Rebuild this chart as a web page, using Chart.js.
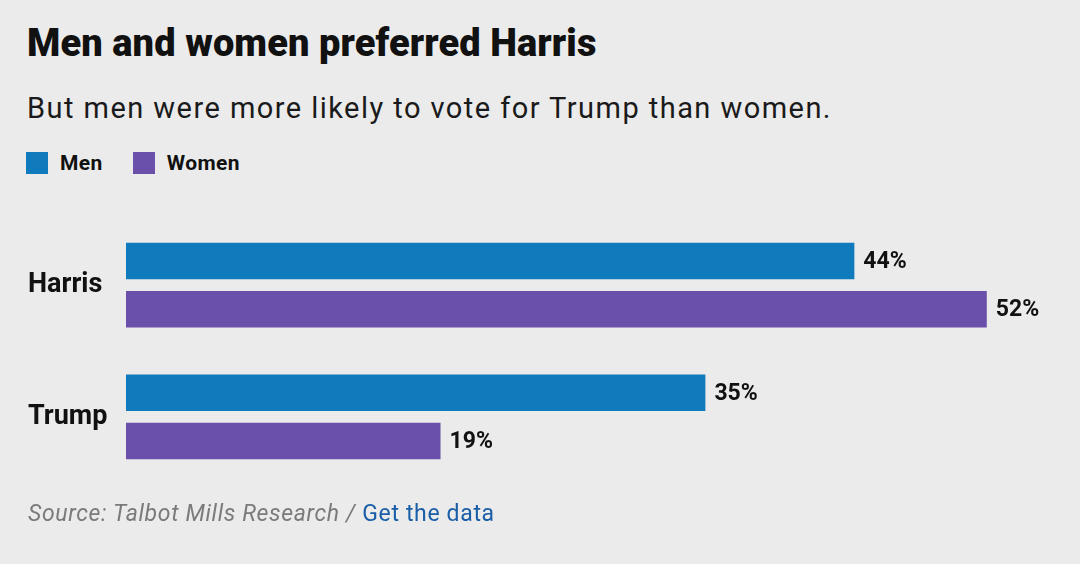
<!DOCTYPE html>
<html>
<head>
<meta charset="utf-8">
<script src="https://cdn.jsdelivr.net/npm/chart.js@4"></script>
<style>
  html, body { margin: 0; padding: 0; background: #ebebeb; }
  body { width: 1080px; height: 564px; position: relative; overflow: hidden; font-family: Roboto, sans-serif; color: #111; }
  #title { position: absolute; left: 27px; top: 21px; font-size: 38px; font-weight: 900; letter-spacing: 0.1px; }
  #sub { position: absolute; left: 27px; top: 91px; font-size: 29px; font-weight: 400; letter-spacing: 1.45px; color: #1a1a1a; }
  #legend { position: absolute; left: 26px; top: 151px; font-size: 21px; font-weight: 700; display: flex; align-items: center; }
  #legend span.sw { display: inline-block; width: 22px; height: 22px; margin-right: 12px; }
  #legend span.lb { margin-right: 30px; letter-spacing: 0.4px; }
  #wrap { position: absolute; left: 0; top: 200px; width: 1080px; height: 302px; }
  #src { position: absolute; left: 28px; top: 500px; font-size: 23px; color: #7a7a7a; font-style: italic; letter-spacing: 0.65px; }
  #src a { color: #1a5ea8; font-style: normal; text-decoration: none; }
</style>
</head>
<body>
<div id="title">Men and women preferred Harris</div>
<div id="sub">But men were more likely to vote for Trump than women.</div>
<div id="legend"></div>
<div id="wrap"><canvas id="grafico"></canvas></div>
<div id="src">Source: Talbot Mills Research / <a>Get the data</a></div>
<script>
const categorias = ["Harris", "Trump"];
const homens = [44, 35];
const mulheres = [52, 19];
const series = [
  { label: "Men", dado: homens, cor: "#0f7bbd" },
  { label: "Women", dado: mulheres, cor: "#6a50ab" }
];

// legenda em HTML
const leg = document.getElementById('legend');
series.forEach(s => {
  leg.innerHTML += `<span class="sw" style="background:${s.cor}"></span><span class="lb">${s.label}</span>`;
});

// rótulos de valor no fim das barras
const rotulos = {
  id: 'rotulos',
  afterDatasetsDraw(chart) {
    const ctx = chart.ctx;
    ctx.save();
    ctx.font = "700 23px Roboto, sans-serif";
    ctx.fillStyle = "#111";
    ctx.textBaseline = "middle";
    ctx.textAlign = "left";
    chart.data.datasets.forEach((ds, i) => {
      chart.getDatasetMeta(i).data.forEach((bar, j) => {
        ctx.fillText(ds.data[j] + "%", bar.x + 9, bar.y + 1);
      });
    });
    ctx.restore();
  }
};

const ctx = document.getElementById('grafico').getContext('2d');
const grafico = new Chart(ctx, {
  type: 'bar',
  data: {
    labels: categorias,
    datasets: series.map(s => ({
      label: s.label,
      data: s.dado,
      backgroundColor: s.cor,
      borderWidth: 0,
      categoryPercentage: 0.732,
      barPercentage: 0.76
    }))
  },
  options: {
    indexAxis: 'y',
    responsive: true,
    maintainAspectRatio: false,
    animation: false,
    layout: { padding: { left: 28, right: 27, top: 15, bottom: 8 } },
    plugins: { legend: { display: false }, tooltip: { enabled: false } },
    scales: {
      x: { display: false, min: 0, max: 56 },
      y: {
        grid: { display: false },
        border: { display: false },
        afterFit: scale => { scale.width = 98; },
        ticks: {
          crossAlign: 'far',
          color: "#111",
          font: { family: "Roboto, sans-serif", size: 27, weight: '700' }
        }
      }
    }
  },
  plugins: [rotulos]
});
</script>
</body>
</html>
